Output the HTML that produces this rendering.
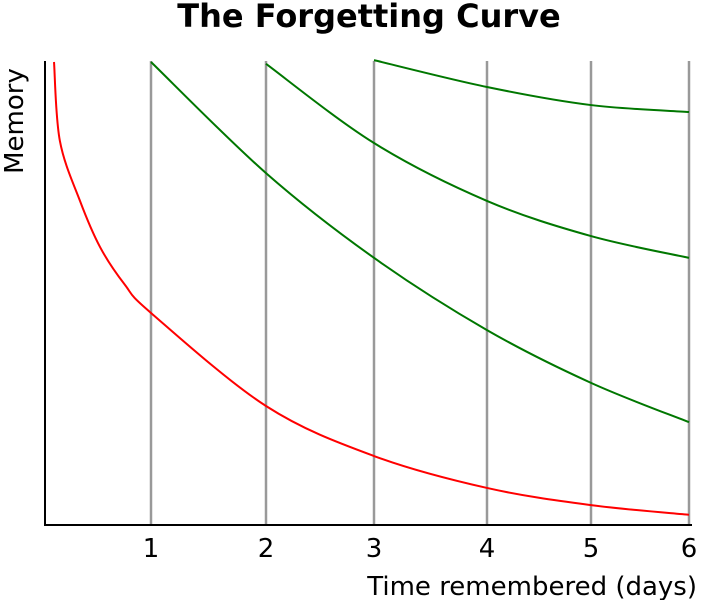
<!DOCTYPE html>
<html><head><meta charset="utf-8"><style>
html,body{margin:0;padding:0;background:#fff;}
svg{display:block;font-family:"DejaVu Sans","Liberation Sans",sans-serif;}
</style></head><body>
<svg id="chart" width="701" height="600" viewBox="0 0 701 600">
<text x="369" y="27" text-anchor="middle" font-size="32" font-weight="bold">The Forgetting Curve</text>
<text transform="translate(23,121) rotate(-90)" text-anchor="middle" font-size="26">Memory</text>
<text x="697" y="595" text-anchor="end" font-size="26">Time remembered (days)</text>
<g id="grid"></g><g id="series"></g><g id="ticks"></g>
<line x1="45" y1="61" x2="45" y2="526" stroke="#000" stroke-width="2"/>
<line x1="44" y1="525" x2="692" y2="525" stroke="#000" stroke-width="2"/>
</svg>
<script>
const tickLabels=["1","2","3","4","5","6"];
const tickDays=[1,2,3,4,5,6];
const redDays=[0.085,0.14,0.33,0.52,0.75,1,2,3,4,5,6];
const redMemory=[100,83,70,60,52,45.8,25.7,14.9,8.0,4.3,2.2];
const review1Days=[1,2,3,4,5,6];
const review1Memory=[100,76.0,57.7,42.1,30.7,22.2];
const review2Days=[2,3,4,5,6];
const review2Memory=[99.6,82.5,70.0,62.4,57.7];
const review3Days=[3,4,5,6];
const review3Memory=[100.4,94.6,90.7,89.2];

// axis: piecewise mapping (hand-drawn irregular grid)
const axisDays=[0,1,2,3,4,5,6], axisPx=[45,151,266,374,487,591,689];
function x(d){for(let i=0;i<axisDays.length-1;i++){if(d<=axisDays[i+1]||i==axisDays.length-2){const t=(d-axisDays[i])/(axisDays[i+1]-axisDays[i]);return axisPx[i]+t*(axisPx[i+1]-axisPx[i]);}}}
function y(m){return 525-m/100*463;}
const NS="http://www.w3.org/2000/svg";
const grid=document.getElementById('grid'),ticks=document.getElementById('ticks'),series=document.getElementById('series');
tickDays.forEach((d,i)=>{
  const l=document.createElementNS(NS,'line');
  l.setAttribute('x1',x(d));l.setAttribute('x2',x(d));l.setAttribute('y1',61);l.setAttribute('y2',525);
  l.setAttribute('stroke','#999');l.setAttribute('stroke-width','2.5');
  
  
  grid.appendChild(l);
  const t=document.createElementNS(NS,'text');
  t.setAttribute('x',x(d));t.setAttribute('y',557);t.setAttribute('text-anchor','middle');t.setAttribute('font-size','26');
  t.textContent=tickLabels[i];
  
  
  ticks.appendChild(t);
});
function path(ds,ms){
  const p=ds.map((d,i)=>[x(d),y(ms[i])]);
  let s='M'+p[0][0]+','+p[0][1];
  for(let i=0;i<p.length-1;i++){
    const p0=p[i-1]||p[i],p1=p[i],p2=p[i+1],p3=p[i+2]||p2;
    const c1=[p1[0]+(p2[0]-p0[0])/6,p1[1]+(p2[1]-p0[1])/6],c2=[p2[0]-(p3[0]-p1[0])/6,p2[1]-(p3[1]-p1[1])/6];
    s+=' C'+c1+' '+c2+' '+p2;
  }
  return s;
}
[[redDays,redMemory,'#f00','forgetting-curve-red'],[review1Days,review1Memory,'#070','review-curve-1'],[review2Days,review2Memory,'#070','review-curve-2'],[review3Days,review3Memory,'#070','review-curve-3']].forEach(s=>{
  const e=document.createElementNS(NS,'path');
  e.setAttribute('d',path(s[0],s[1]));e.setAttribute('fill','none');e.setAttribute('stroke',s[2]);e.setAttribute('stroke-width','2');
  
  
  series.appendChild(e);
});
</script>
</body></html>
